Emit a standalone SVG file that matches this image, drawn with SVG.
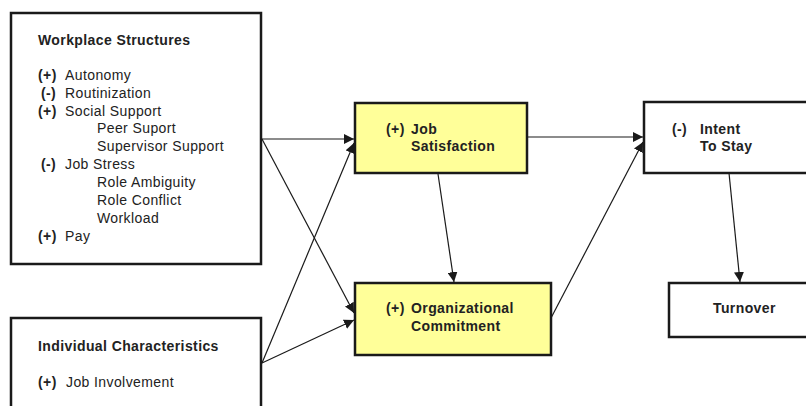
<svg xmlns="http://www.w3.org/2000/svg" width="806" height="406" viewBox="0 0 806 406">
<defs>
<style>
.box{fill:#fff;stroke:#1a1a1a;stroke-width:2.5}
.yel{fill:#ffff99;stroke:#1a1a1a;stroke-width:2.5}
text{font-family:"Liberation Sans",Arial,sans-serif;font-size:14px;letter-spacing:0.4px;fill:#222}
.b{font-weight:bold}
.c line{stroke:#1a1a1a;stroke-width:1.2;marker-end:url(#ah)}
</style>
<marker id="ah" viewBox="0 0 10 10" refX="10" refY="5" markerWidth="10" markerHeight="10" markerUnits="userSpaceOnUse" orient="auto">
<path d="M0,0 L10,5 L0,10 z" fill="#1a1a1a"/>
</marker>
</defs>
<rect width="806" height="406" fill="#fff"/>
<g id="workplace">
<rect class="box" x="11" y="13" width="250" height="251"/>
<text class="b" x="38" y="45">Workplace Structures</text>
<text class="b" x="38" y="80">(+)</text><text x="65" y="80">Autonomy</text>
<text class="b" x="41" y="98">(-)</text><text x="65" y="98">Routinization</text>
<text class="b" x="38" y="116">(+)</text><text x="65" y="116">Social Support</text>
<text x="97" y="133">Peer Suport</text>
<text x="97" y="151">Supervisor Support</text>
<text class="b" x="41" y="169">(-)</text><text x="65" y="169">Job Stress</text>
<text x="97" y="187">Role Ambiguity</text>
<text x="97" y="205">Role Conflict</text>
<text x="97" y="223">Workload</text>
<text class="b" x="38" y="241">(+)</text><text x="65" y="241">Pay</text>
</g>
<g id="individual">
<rect class="box" x="11" y="318" width="250" height="100"/>
<text class="b" x="38" y="351">Individual Characteristics</text>
<text class="b" x="38" y="387">(+)</text><text x="66" y="387">Job Involvement</text>
</g>
<g id="jobsat">
<rect class="yel" x="355" y="103" width="172" height="70"/>
<text class="b" x="386" y="134">(+)</text><text class="b" x="411" y="134">Job</text>
<text class="b" x="411" y="151">Satisfaction</text>
</g>
<g id="orgcom">
<rect class="yel" x="355" y="283" width="196" height="72"/>
<text class="b" x="386" y="313">(+)</text><text class="b" x="411" y="313">Organizational</text>
<text class="b" x="411" y="331">Commitment</text>
</g>
<g id="intent">
<rect class="box" x="644" y="102" width="170" height="71"/>
<text class="b" x="672" y="134">(-)</text><text class="b" x="700" y="134">Intent</text>
<text class="b" x="700" y="151">To Stay</text>
</g>
<g id="turnover">
<rect class="box" x="669" y="283" width="145" height="54"/>
<text class="b" x="713" y="313">Turnover</text>
</g>
<g id="connectors" class="c">
<line x1="262" y1="139" x2="354" y2="139"/>
<line x1="262" y1="139" x2="354" y2="313"/>
<line x1="262" y1="363" x2="354" y2="143"/>
<line x1="262" y1="363" x2="354" y2="320"/>
<line x1="438" y1="174" x2="454" y2="282"/>
<line x1="527" y1="137" x2="643" y2="137"/>
<line x1="551" y1="318" x2="643" y2="142"/>
<line x1="729" y1="173" x2="740" y2="282"/>
</g>
</svg>
